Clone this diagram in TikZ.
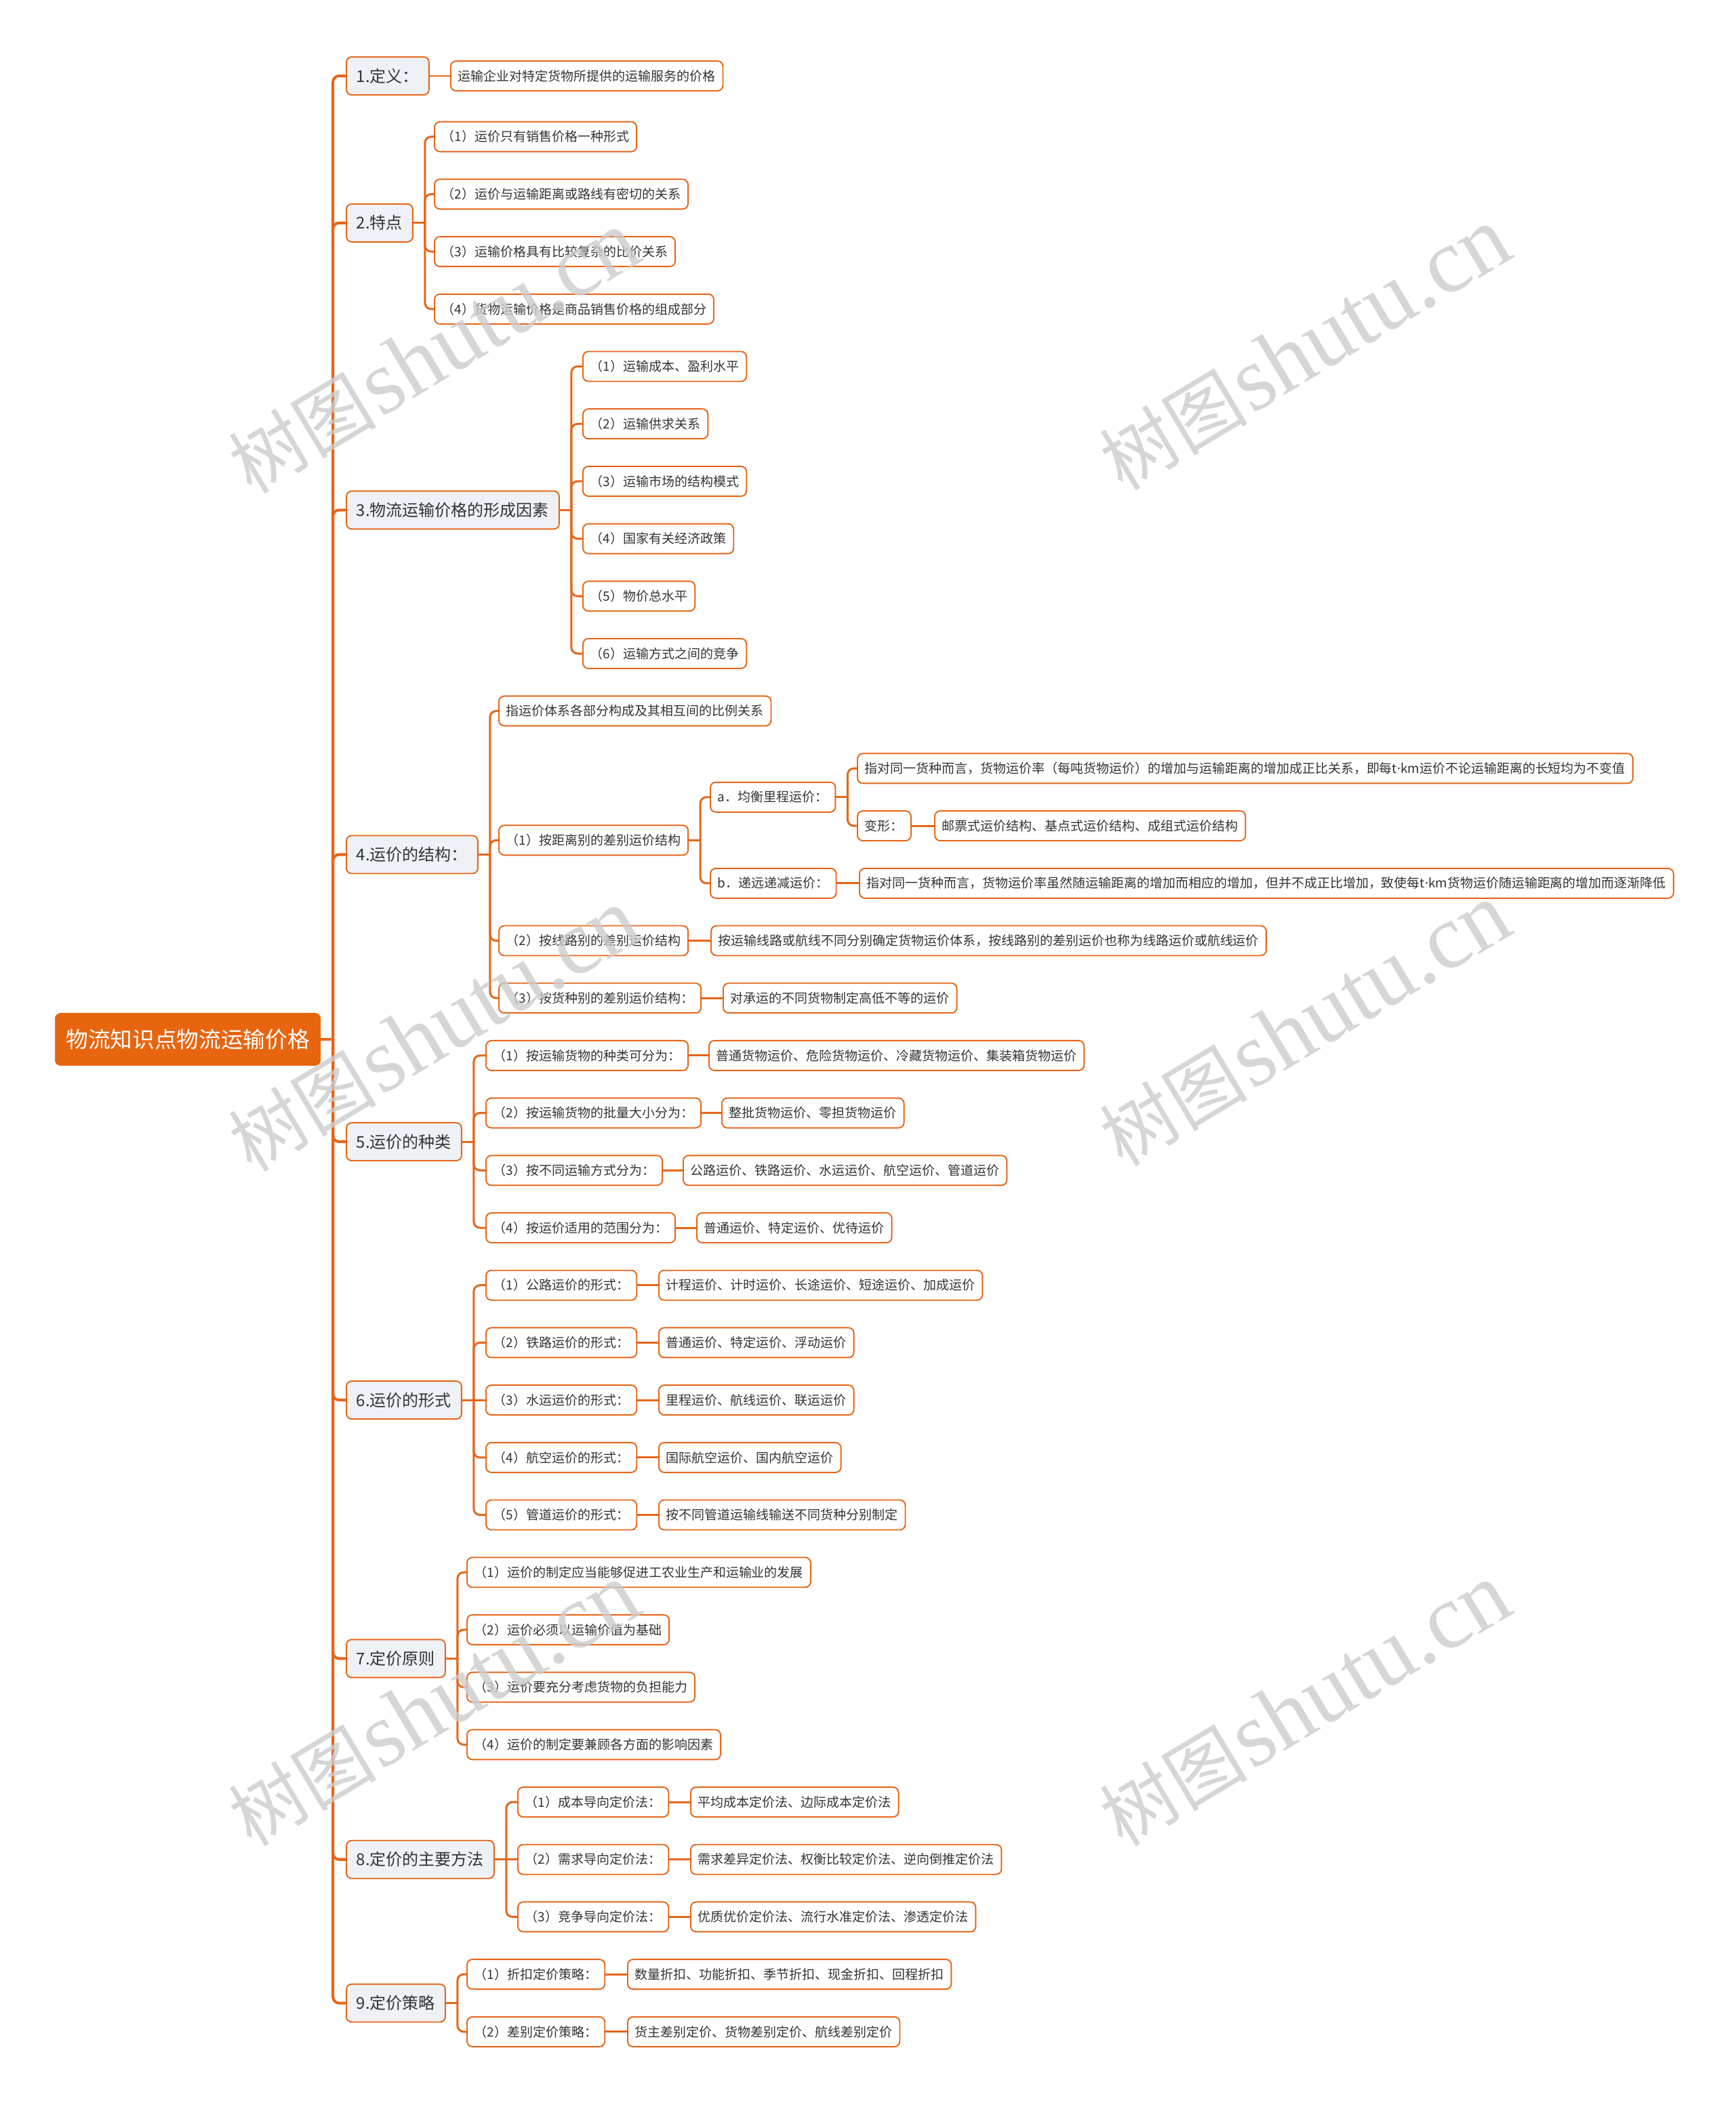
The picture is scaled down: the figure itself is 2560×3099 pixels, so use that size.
\documentclass[tikz,border=0pt]{standalone}
\usepackage{fontspec}
\usepackage{tikz}
\setmainfont{Noto Sans CJK SC}
\newfontfamily\wmserif{Liberation Serif}
\newfontfamily\latinsans{Noto Sans}

\definecolor{mmorange}{HTML}{E5661A}
\definecolor{mmroot}{HTML}{E8650F}
\definecolor{mmtopic}{HTML}{EEF1F5}
\definecolor{mmtext}{HTML}{333333}

\newcommand{\tkm}{t{\latinsans ·}km}

\begin{document}
\begin{tikzpicture}[
    x=0.02cm, y=-0.02cm,
    root/.style={rectangle, rounded corners=0.16cm, draw=mmroot, fill=mmroot, text=white, font=\fontsize{18.6}{22}\selectfont, minimum height=1.54cm, inner xsep=0.32cm, anchor=west},
    topic/.style={rectangle, rounded corners=0.16cm, draw=mmorange, line width=1.1pt, fill=mmtopic, text=mmtext, font=\fontsize{13.66}{16}\selectfont, minimum height=1.12cm, inner xsep=0.3cm, inner ysep=0pt, anchor=west},
    leaf/.style={rectangle, rounded corners=0.16cm, draw=mmorange, line width=1.1pt, fill=white, text=mmtext, font=\fontsize{10.8}{13}\selectfont, minimum height=0.88cm, inner xsep=0.22cm, inner ysep=0pt, anchor=west},
    link/.style={draw=mmorange, line width=1.7pt, rounded corners=0.18cm},
    trunk/.style={link, line width=2.3pt},
    watermark/.style={rotate=31, text=black!20, opacity=0.8}
]
\useasboundingbox (0,0) rectangle (2560,3099);

% Root
\node[root] (price) at (81, 1533) {物流知识点物流运输价格};

% Main topics
\node[topic] (def) at (510, 112) {1.定义：};
\node[topic] (feat) at (510, 328.8) {2.特点};
\node[topic] (factor) at (510, 752.3) {3.物流运输价格的形成因素};
\node[topic] (struct) at (510, 1260.5) {4.运价的结构：};
\node[topic] (kind) at (510, 1684) {5.运价的种类};
\node[topic] (form) at (510, 2065.1) {6.运价的形式};
\node[topic] (rule) at (510, 2446.3) {7.定价原则};
\node[topic] (method) at (510, 2742.7) {8.定价的主要方法};
\node[topic] (strategy) at (510, 2954.5) {9.定价策略};

% 1. Definition
\node[leaf] (def_text) at (664, 112) {运输企业对特定货物所提供的运输服务的价格};

% 2. Features
\node[leaf] (feat_1) at (640, 201.7) {（1）运价只有销售价格一种形式};
\node[leaf] (feat_2) at (640, 286.4) {（2）运价与运输距离或路线有密切的关系};
\node[leaf] (feat_3) at (640, 371.1) {（3）运输价格具有比较复杂的比价关系};
\node[leaf] (feat_4) at (640, 455.8) {（4）货物运输价格是商品销售价格的组成部分};

% 3. Factors
\node[leaf] (factor_1) at (859, 540.5) {（1）运输成本、盈利水平};
\node[leaf] (factor_2) at (859, 625.2) {（2）运输供求关系};
\node[leaf] (factor_3) at (859, 709.9) {（3）运输市场的结构模式};
\node[leaf] (factor_4) at (859, 794.6) {（4）国家有关经济政策};
\node[leaf] (factor_5) at (859, 879.3) {（5）物价总水平};
\node[leaf] (factor_6) at (859, 964.0) {（6）运输方式之间的竞争};

% 4. Structure
\node[leaf] (struct_def) at (735, 1048.7) {指运价体系各部分构成及其相互间的比例关系};
\node[leaf] (struct_dist) at (735, 1239.3) {（1）按距离别的差别运价结构};
\node[leaf] (struct_a) at (1047, 1175.8) {a．均衡里程运价：};
\node[leaf] (struct_a_def) at (1264, 1133.4) {指对同一货种而言，货物运价率（每吨货物运价）的增加与运输距离的增加成正比关系，即每\tkm 运价不论运输距离的长短均为不变值};
\node[leaf] (struct_a_var) at (1264, 1218.1) {变形：};
\node[leaf] (struct_a_var_text) at (1378, 1218.1) {邮票式运价结构、基点式运价结构、成组式运价结构};
\node[leaf] (struct_b) at (1047, 1302.8) {b．递远递减运价：};
\node[leaf] (struct_b_def) at (1267, 1302.8) {指对同一货种而言，货物运价率虽然随运输距离的增加而相应的增加，但并不成正比增加，致使每\tkm 货物运价随运输距离的增加而逐渐降低};
\node[leaf] (struct_line) at (735, 1387.5) {（2）按线路别的差别运价结构};
\node[leaf] (struct_line_text) at (1048, 1387.5) {按运输线路或航线不同分别确定货物运价体系，按线路别的差别运价也称为线路运价或航线运价};
\node[leaf] (struct_cargo) at (735, 1472.2) {（3）按货种别的差别运价结构：};
\node[leaf] (struct_cargo_text) at (1066, 1472.2) {对承运的不同货物制定高低不等的运价};

% 5. Kinds
\node[leaf] (kind_1) at (716, 1556.9) {（1）按运输货物的种类可分为：};
\node[leaf] (kind_1_text) at (1045, 1556.9) {普通货物运价、危险货物运价、冷藏货物运价、集装箱货物运价};
\node[leaf] (kind_2) at (716, 1641.6) {（2）按运输货物的批量大小分为：};
\node[leaf] (kind_2_text) at (1064, 1641.6) {整批货物运价、零担货物运价};
\node[leaf] (kind_3) at (716, 1726.3) {（3）按不同运输方式分为：};
\node[leaf] (kind_3_text) at (1007, 1726.3) {公路运价、铁路运价、水运运价、航空运价、管道运价};
\node[leaf] (kind_4) at (716, 1811.0) {（4）按运价适用的范围分为：};
\node[leaf] (kind_4_text) at (1027, 1811.0) {普通运价、特定运价、优待运价};

% 6. Forms
\node[leaf] (form_1) at (716, 1895.7) {（1）公路运价的形式：};
\node[leaf] (form_1_text) at (971, 1895.7) {计程运价、计时运价、长途运价、短途运价、加成运价};
\node[leaf] (form_2) at (716, 1980.4) {（2）铁路运价的形式：};
\node[leaf] (form_2_text) at (971, 1980.4) {普通运价、特定运价、浮动运价};
\node[leaf] (form_3) at (716, 2065.1) {（3）水运运价的形式：};
\node[leaf] (form_3_text) at (971, 2065.1) {里程运价、航线运价、联运运价};
\node[leaf] (form_4) at (716, 2149.8) {（4）航空运价的形式：};
\node[leaf] (form_4_text) at (971, 2149.8) {国际航空运价、国内航空运价};
\node[leaf] (form_5) at (716, 2234.5) {（5）管道运价的形式：};
\node[leaf] (form_5_text) at (971, 2234.5) {按不同管道运输线输送不同货种分别制定};

% 7. Principles
\node[leaf] (rule_1) at (688, 2319.2) {（1）运价的制定应当能够促进工农业生产和运输业的发展};
\node[leaf] (rule_2) at (688, 2403.9) {（2）运价必须以运输价值为基础};
\node[leaf] (rule_3) at (688, 2488.6) {（3）运价要充分考虑货物的负担能力};
\node[leaf] (rule_4) at (688, 2573.3) {（4）运价的制定要兼顾各方面的影响因素};

% 8. Methods
\node[leaf] (method_1) at (763, 2658.0) {（1）成本导向定价法：};
\node[leaf] (method_1_text) at (1018, 2658.0) {平均成本定价法、边际成本定价法};
\node[leaf] (method_2) at (763, 2742.7) {（2）需求导向定价法：};
\node[leaf] (method_2_text) at (1018, 2742.7) {需求差异定价法、权衡比较定价法、逆向倒推定价法};
\node[leaf] (method_3) at (763, 2827.4) {（3）竞争导向定价法：};
\node[leaf] (method_3_text) at (1018, 2827.4) {优质优价定价法、流行水准定价法、渗透定价法};

% 9. Strategies
\node[leaf] (strategy_1) at (688, 2912.1) {（1）折扣定价策略：};
\node[leaf] (strategy_1_text) at (925, 2912.1) {数量折扣、功能折扣、季节折扣、现金折扣、回程折扣};
\node[leaf] (strategy_2) at (688, 2996.8) {（2）差别定价策略：};
\node[leaf] (strategy_2_text) at (925, 2996.8) {货主差别定价、货物差别定价、航线差别定价};

% Trunk
\draw[trunk] (price.east) -- ++(18,0) coordinate (trunk_bus);
\draw[trunk] (trunk_bus) |- (def.west);
\draw[trunk] (trunk_bus) |- (feat.west);
\draw[trunk] (trunk_bus) |- (factor.west);
\draw[trunk] (trunk_bus) |- (struct.west);
\draw[trunk] (trunk_bus) |- (kind.west);
\draw[trunk] (trunk_bus) |- (form.west);
\draw[trunk] (trunk_bus) |- (rule.west);
\draw[trunk] (trunk_bus) |- (method.west);
\draw[trunk] (trunk_bus) |- (strategy.west);

% Branch links
\draw[link] (def.east) -- (def_text.west);

\draw[link] (feat.east) -- ++(17,0) coordinate (feat_bus);
\draw[link] (feat_bus) |- (feat_1.west);
\draw[link] (feat_bus) |- (feat_2.west);
\draw[link] (feat_bus) |- (feat_3.west);
\draw[link] (feat_bus) |- (feat_4.west);

\draw[link] (factor.east) -- ++(17,0) coordinate (factor_bus);
\draw[link] (factor_bus) |- (factor_1.west);
\draw[link] (factor_bus) |- (factor_2.west);
\draw[link] (factor_bus) |- (factor_3.west);
\draw[link] (factor_bus) |- (factor_4.west);
\draw[link] (factor_bus) |- (factor_5.west);
\draw[link] (factor_bus) |- (factor_6.west);

\draw[link] (struct.east) -- ++(17,0) coordinate (struct_bus);
\draw[link] (struct_bus) |- (struct_def.west);
\draw[link] (struct_bus) |- (struct_dist.west);
\draw[link] (struct_bus) |- (struct_line.west);
\draw[link] (struct_bus) |- (struct_cargo.west);
\draw[link] (struct_dist.east) -- ++(17,0) coordinate (dist_bus);
\draw[link] (dist_bus) |- (struct_a.west);
\draw[link] (dist_bus) |- (struct_b.west);
\draw[link] (struct_a.east) -- ++(17,0) coordinate (a_bus);
\draw[link] (a_bus) |- (struct_a_def.west);
\draw[link] (a_bus) |- (struct_a_var.west);
\draw[link] (struct_a_var.east) -- (struct_a_var_text.west);
\draw[link] (struct_b.east) -- (struct_b_def.west);
\draw[link] (struct_line.east) -- (struct_line_text.west);
\draw[link] (struct_cargo.east) -- (struct_cargo_text.west);

\draw[link] (kind.east) -- ++(17,0) coordinate (kind_bus);
\draw[link] (kind_bus) |- (kind_1.west);
\draw[link] (kind_bus) |- (kind_2.west);
\draw[link] (kind_bus) |- (kind_3.west);
\draw[link] (kind_bus) |- (kind_4.west);
\draw[link] (kind_1.east) -- (kind_1_text.west);
\draw[link] (kind_2.east) -- (kind_2_text.west);
\draw[link] (kind_3.east) -- (kind_3_text.west);
\draw[link] (kind_4.east) -- (kind_4_text.west);

\draw[link] (form.east) -- ++(17,0) coordinate (form_bus);
\draw[link] (form_bus) |- (form_1.west);
\draw[link] (form_bus) |- (form_2.west);
\draw[link] (form_bus) -- (form_3.west);
\draw[link] (form_bus) |- (form_4.west);
\draw[link] (form_bus) |- (form_5.west);
\draw[link] (form_1.east) -- (form_1_text.west);
\draw[link] (form_2.east) -- (form_2_text.west);
\draw[link] (form_3.east) -- (form_3_text.west);
\draw[link] (form_4.east) -- (form_4_text.west);
\draw[link] (form_5.east) -- (form_5_text.west);

\draw[link] (rule.east) -- ++(17,0) coordinate (rule_bus);
\draw[link] (rule_bus) |- (rule_1.west);
\draw[link] (rule_bus) |- (rule_2.west);
\draw[link] (rule_bus) |- (rule_3.west);
\draw[link] (rule_bus) |- (rule_4.west);

\draw[link] (method.east) -- ++(17,0) coordinate (method_bus);
\draw[link] (method_bus) |- (method_1.west);
\draw[link] (method_bus) -- (method_2.west);
\draw[link] (method_bus) |- (method_3.west);
\draw[link] (method_1.east) -- (method_1_text.west);
\draw[link] (method_2.east) -- (method_2_text.west);
\draw[link] (method_3.east) -- (method_3_text.west);

\draw[link] (strategy.east) -- ++(17,0) coordinate (strategy_bus);
\draw[link] (strategy_bus) |- (strategy_1.west);
\draw[link] (strategy_bus) |- (strategy_2.west);
\draw[link] (strategy_1.east) -- (strategy_1_text.west);
\draw[link] (strategy_2.east) -- (strategy_2_text.west);

% Watermarks
\node[watermark] (wm_1) at (640, 520) {{\fontsize{62}{70}\selectfont 树图}\hspace{0.25em}{\wmserif\fontsize{77}{80}\selectfont shutu.cn}};
\node[watermark] (wm_2) at (1925, 515) {{\fontsize{62}{70}\selectfont 树图}\hspace{0.25em}{\wmserif\fontsize{77}{80}\selectfont shutu.cn}};
\node[watermark] (wm_3) at (640, 1520) {{\fontsize{62}{70}\selectfont 树图}\hspace{0.25em}{\wmserif\fontsize{77}{80}\selectfont shutu.cn}};
\node[watermark] (wm_4) at (1925, 1512) {{\fontsize{62}{70}\selectfont 树图}\hspace{0.25em}{\wmserif\fontsize{77}{80}\selectfont shutu.cn}};
\node[watermark] (wm_5) at (640, 2515) {{\fontsize{62}{70}\selectfont 树图}\hspace{0.25em}{\wmserif\fontsize{77}{80}\selectfont shutu.cn}};
\node[watermark] (wm_6) at (1925, 2515) {{\fontsize{62}{70}\selectfont 树图}\hspace{0.25em}{\wmserif\fontsize{77}{80}\selectfont shutu.cn}};

\end{tikzpicture}
\end{document}
